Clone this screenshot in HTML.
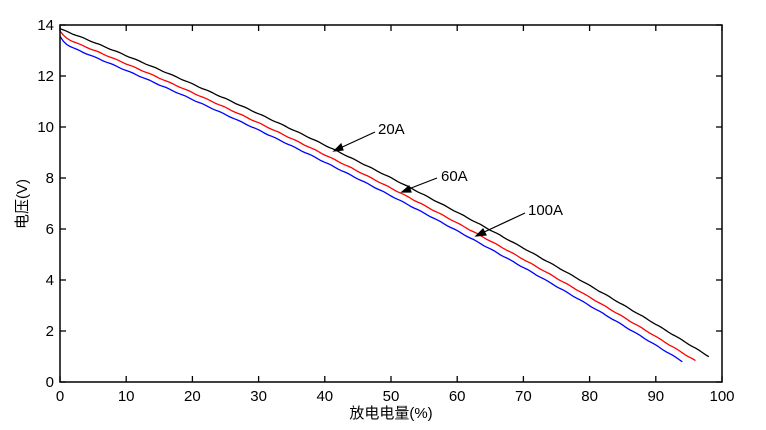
<!DOCTYPE html>
<html><head><meta charset="utf-8"><style>
body{margin:0;background:#fff;}
svg{display:block;font-family:"Liberation Sans","Noto Sans CJK SC",sans-serif;}
</style></head><body>
<svg id="s" width="766" height="430" xmlns="http://www.w3.org/2000/svg">
<g id="curves" fill="none" stroke-width="1.3"></g>
<rect x="60" y="25" width="662" height="357" fill="none" stroke="#000" stroke-width="1.5"/>
<g id="ticks" stroke="#000" stroke-width="1.3"></g>
<g id="labels" font-size="15" fill="#000"></g>
<text x="391" y="418" font-size="15" text-anchor="middle">放电电量(%)</text>
<text transform="translate(27,204) rotate(-90)" font-size="15" text-anchor="middle">电压(V)</text>
<g stroke="#000" stroke-width="1.2" fill="#000">
<line x1="375" y1="132" x2="338" y2="149"/><polygon points="334,151 341,144 343,150"/>
<line x1="437" y1="178" x2="406" y2="190"/><polygon points="402,192 409,186 411,192"/>
<line x1="525" y1="213" x2="480" y2="234"/><polygon points="476,236 483,229 486,235"/>
</g>
<g font-size="15"><text x="378" y="134">20A</text><text x="441" y="181">60A</text><text x="528" y="215">100A</text></g>
</svg>
<script>
const X=v=>60+v*6.62, Y=v=>382-v*25.5;
function f(x){return 13.85-0.1022*x-0.000295*x*x;}
const series=[["#000",98,0,0.15,0],["#f00",96,-0.3,0.2,-0.2],["#00f",94,-0.55,0.25,-0.3]];
let g=document.getElementById('curves'),h='';
series.forEach(([c,end,off,drop,d2],k)=>{
 let p=[];
 for(let x=0;x<=end;x+=0.5){
  let y=f(x)+off+(k?drop*Math.exp(-x*1.5):0)+d2*x/100;
  y+=0.012*Math.sin(x*2.3+k);
  p.push(X(x).toFixed(1)+','+Y(y).toFixed(1));
 }
 h+=`<polyline stroke="${c}" points="${p.join(' ')}"/>`;
});
g.innerHTML=h;
let t='',l='';
for(let i=0;i<=10;i++){let x=X(i*10);t+=`<line x1="${x}" y1="382" x2="${x}" y2="376"/><line x1="${x}" y1="25" x2="${x}" y2="31"/>`;
 l+=`<text x="${x}" y="401" text-anchor="middle">${i*10}</text>`;}
for(let v=0;v<=14;v+=2){let y=Y(v);t+=`<line x1="60" y1="${y}" x2="66" y2="${y}"/><line x1="722" y1="${y}" x2="716" y2="${y}"/>`;
 l+=`<text x="54" y="${y+5}" text-anchor="end">${v}</text>`;}
document.getElementById('ticks').innerHTML=t;
document.getElementById('labels').innerHTML=l;
</script>
</body></html>
